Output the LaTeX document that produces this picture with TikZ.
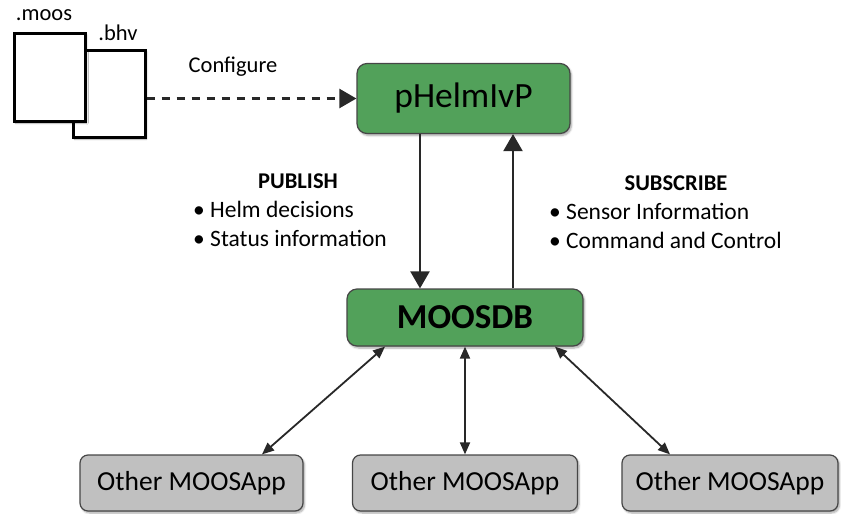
\documentclass[tikz,border=0pt]{standalone}
\usepackage{fontspec}
\setmainfont{Carlito}
\usetikzlibrary{arrows.meta,shadows.blur}
\definecolor{boxgreen}{RGB}{82,161,90}
\definecolor{boxgray}{RGB}{192,192,192}
\definecolor{edgegray}{RGB}{70,70,70}
\definecolor{arrowdark}{RGB}{40,40,40}
\tikzset{
  shad/.style={blur shadow={shadow xshift=1.5pt,shadow yshift=-2pt,shadow blur steps=6,shadow opacity=35}},
  doc/.style={draw=black,line width=3pt,fill=white,shad},
  greenbox/.style={draw=edgegray,line width=1.2pt,fill=boxgreen,rounded corners=10pt,shad,inner sep=0pt},
  graybox/.style={draw=edgegray,line width=1.2pt,fill=boxgray,rounded corners=8pt,shad,inner sep=0pt,font=\fontsize{27.5}{30}\selectfont,minimum height=56pt},
  lbl/.style={inner sep=0pt,font=\fontsize{22.5}{29}\selectfont},
  listlbl/.style={inner sep=0pt,font=\fontsize{23.5}{29}\selectfont,anchor=west,align=left},
  bighead/.style={-{Triangle[length=17pt,width=19pt]}},
  conn/.style={draw=arrowdark,line width=2.2pt,bighead},
  dconn/.style={draw=arrowdark,line width=1.8pt,{Triangle[length=12pt,width=10pt]}-{Triangle[length=12pt,width=10pt]}},
}
\begin{document}
\begin{tikzpicture}[x=1pt,y=-1pt]
\useasboundingbox (0,0) rectangle (841,514);
% documents
\node[doc,minimum width=72pt,minimum height=87pt,inner sep=0pt] (bhv) at (109,93.5) {};
\node[doc,minimum width=71pt,minimum height=88pt,inner sep=0pt] (moos) at (49.5,77) {};
\node[lbl] (moosl) at (44,15) {.moos};
\node[lbl] (bhvl) at (118,33) {.bhv};
\node[lbl] (cfg) at (233,67) {Configure};
% main boxes
\node[greenbox,minimum width=213pt,minimum height=70pt,font=\fontsize{35.5}{40}\selectfont] (helm) at (463.5,98.5) {pHelmIvP};
\node[greenbox,minimum width=236pt,minimum height=57pt,font=\fontsize{35}{40}\selectfont\bfseries] (db) at (465,317.5) {MOOSDB};
% apps
\node[graybox,minimum width=223pt] (app1) at (191.5,483) {Other MOOSApp};
\node[graybox,minimum width=225pt] (app2) at (465,483) {Other MOOSApp};
\node[graybox,minimum width=216pt] (app3) at (730,483) {Other MOOSApp};
% labels
\node[lbl,font=\fontsize{22.5}{29}\selectfont\bfseries] (pub) at (298,181) {PUBLISH};
\node[listlbl] (publist) at (193,223.5) {\textbullet\ Helm decisions\\\textbullet\ Status information};
\node[lbl,font=\fontsize{22.5}{29}\selectfont\bfseries] (sub) at (676,183) {SUBSCRIBE};
\node[listlbl] (sublist) at (549,225.5) {\textbullet\ Sensor Information\\\textbullet\ Command and Control};
% connectors
\draw[draw=arrowdark,line width=2.4pt,dash pattern=on 8pt off 7pt,bighead] (helm.west -| bhv.east) -- (helm.west);
\draw[conn] ([xshift=-43.5pt]helm.south) -- ([xshift=-45pt]db.north);
\draw[conn] ([xshift=48pt]db.north) -- ([xshift=49.5pt]helm.south);
\draw[dconn] ([xshift=-80pt]db.south) -- ([xshift=70.5pt]app1.north);
\draw[dconn] (db.south) -- (app2.north);
\draw[dconn] ([xshift=90pt]db.south) -- ([xshift=-60pt]app3.north);
\end{tikzpicture}
\end{document}
